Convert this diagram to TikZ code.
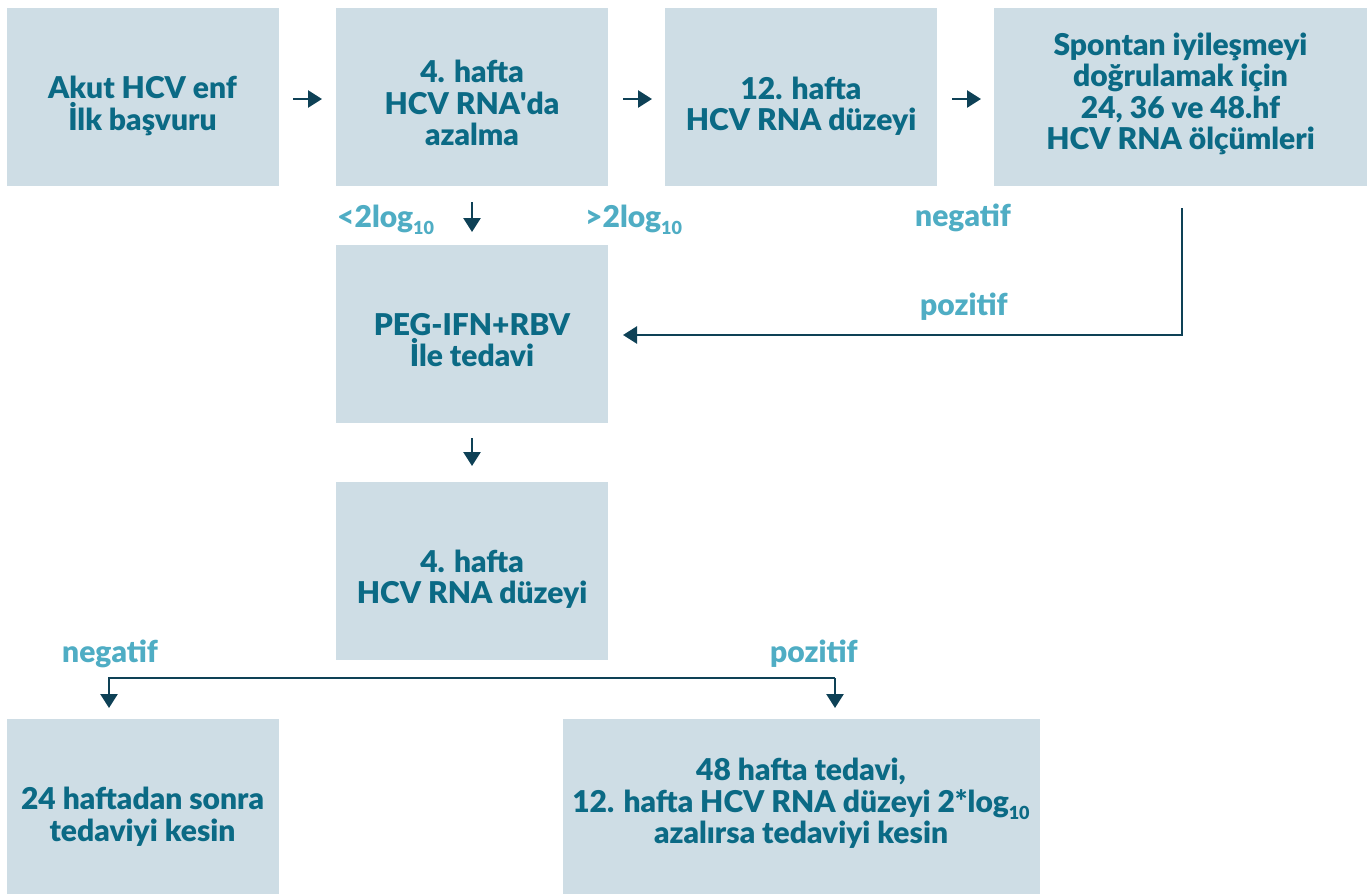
\documentclass[tikz,border=0pt]{standalone}
\usepackage{fontspec}
\setmainfont{Lato}[UprightFont=* Black,BoldFont=* Black]
\usetikzlibrary{arrows.meta}
\definecolor{boxfill}{HTML}{CEDDE5}
\definecolor{boxtext}{HTML}{0B6A85}
\definecolor{lbl}{HTML}{4FADC4}
\definecolor{conn}{HTML}{0E4156}
\newcommand{\lowten}{{\fontsize{18}{18}\selectfont\raisebox{-7pt}{10}}}
\begin{document}
\begin{tikzpicture}[x=1pt,y=-1pt,
  stepbox/.style={fill=boxfill, inner sep=0pt, minimum height=178pt},
  steptext/.style={text=boxtext, align=center, inner sep=0pt,
    font=\fontsize{30}{31.5}\selectfont},
  lab/.style={text=lbl, font=\fontsize{30}{32}\selectfont, inner sep=0pt},
  conline/.style={draw=conn, line width=2.6pt, -{Triangle[width=17pt,length=14pt]}}]
\useasboundingbox (0,0) rectangle (1370,895);
% boxes
\node[stepbox, minimum width=272pt] (b1) at (142.5,97) {};
\node[stepbox, minimum width=272pt] (b2) at (472,97) {};
\node[stepbox, minimum width=272pt] (b3) at (801,97) {};
\node[stepbox, minimum width=373pt] (b4) at (1180.5,97) {};
\node[stepbox, minimum width=272pt] (b5) at (472,334) {};
\node[stepbox, minimum width=272pt] (b6) at (472,571) {};
\node[stepbox, minimum width=272pt, minimum height=175pt] (b7) at (142.5,806.5) {};
\node[stepbox, minimum width=477pt, minimum height=175pt] (b8) at (801,806.5) {};
% box texts
\node[steptext, yshift=-9pt] (t1) at (b1.center) {Akut HCV enf\\İlk başvuru};
\node[steptext, yshift=-6pt] (t2) at (b2.center) {4. hafta\\HCV RNA\textquotesingle da\\azalma};
\node[steptext, yshift=-9pt] (t3) at (b3.center) {12. hafta\\HCV RNA düzeyi};
\node[steptext, yshift=3pt] (t4) at (b4.center) {Spontan iyileşmeyi\\doğrulamak için\\24, 36 ve 48.hf\\HCV RNA ölçümleri};
\node[steptext, yshift=-6pt] (t5) at (b5.center) {PEG-IFN+RBV\\İle tedavi};
\node[steptext, yshift=-8pt] (t6) at (b6.center) {4. hafta\\HCV RNA düzeyi};
\node[steptext, yshift=-10pt] (t7) at (b7.center) {24 haftadan sonra\\tedaviyi kesin};
\node[steptext, yshift=3pt] (t8) at (b8.center) {48 hafta tedavi,\\12. hafta HCV RNA düzeyi 2*log\lowten\\azalırsa tedaviyi kesin};
% short arrows between boxes
\coordinate (a1s) at (293,99); \coordinate (a1e) at (322,99);
\coordinate (a2s) at (623,99); \coordinate (a2e) at (652,99);
\coordinate (a3s) at (952,99); \coordinate (a3e) at (981,99);
\draw[conline] (a1s) -- (a1e);
\draw[conline] (a2s) -- (a2e);
\draw[conline] (a3s) -- (a3e);
\coordinate (d1s) at (472,202); \coordinate (d1e) at (472,232);
\draw[conline] (d1s) -- (d1e);
\coordinate (d2s) at (472,438); \coordinate (d2e) at (472,466);
\draw[conline] (d2s) -- (d2e);
% return path from the follow-up box
\coordinate (r1) at (1182,208); \coordinate (r2) at (1182,335); \coordinate (r3) at (623,335);
\draw[conline] (r1) -- (r2) -- (r3);
% branch after week 4
\coordinate (f1) at (109,678); \coordinate (f2) at (835,678);
\coordinate (f1e) at (109,708); \coordinate (f2e) at (835,708);
\draw[conline] (f2) -- (f1) -- (f1e);
\draw[conline] (f2) -- (f2e);
% labels
\node[lab, anchor=base west] (l1) at (337,227) {<2log\lowten};
\node[lab, anchor=base west] (l2) at (585,227) {>2log\lowten};
\node[lab, anchor=base west] (l3) at (915,226) {negatif};
\node[lab, anchor=base west] (l4) at (920,315) {pozitif};
\node[lab, anchor=base west] (l5) at (62,662) {negatif};
\node[lab, anchor=base west] (l6) at (770,662) {pozitif};
\end{tikzpicture}
\end{document}
